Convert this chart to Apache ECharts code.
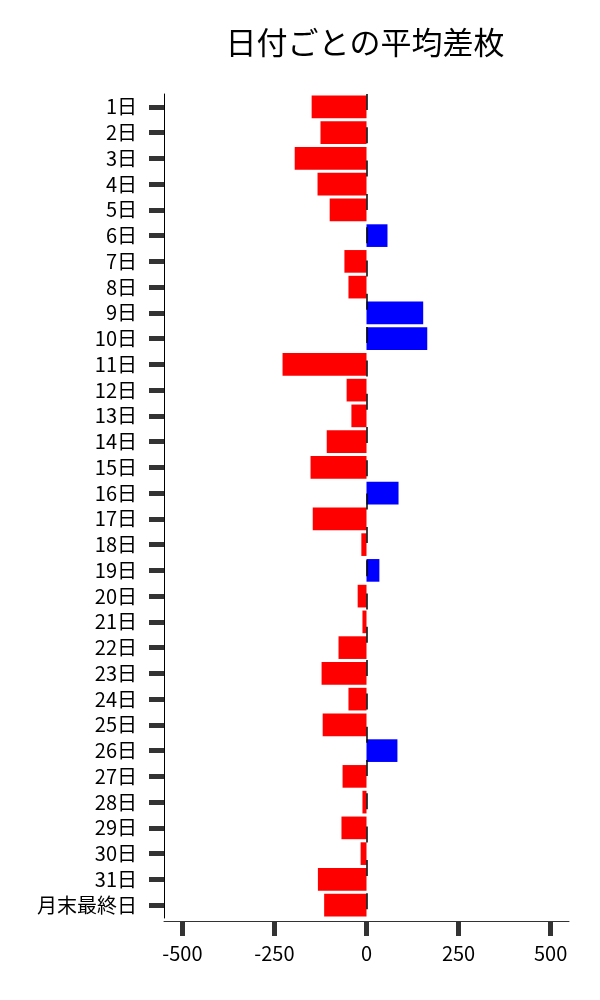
<!DOCTYPE html>
<html>
<head>
<meta charset="utf-8">
<script src="https://cdn.jsdelivr.net/npm/echarts@6/dist/echarts.min.js"></script>
<style>html,body{margin:0;padding:0;background:#fff}#c{width:600px;height:1000px}</style>
</head>
<body>
<div id="c"></div>
<script>
const categories = ['1日','2日','3日','4日','5日','6日','7日','8日','9日','10日','11日','12日','13日','14日','15日','16日','17日','18日','19日','20日','21日','22日','23日','24日','25日','26日','27日','28日','29日','30日','31日','月末最終日'];
const values = [-149,-125,-195,-133,-100,57,-60,-49,154,165,-228,-54,-41,-108,-152,87,-146,-14,35,-24,-11,-76,-122,-49,-119,84,-65,-11,-68,-16,-132,-115];
const xTicks = [-500,-250,0,250,500];
const titleText = '日付ごとの平均差枚';

const FONT = '"Noto Sans CJK JP", "Noto Sans", sans-serif';
const chart = echarts.init(document.getElementById('c'));
chart.setOption({
  animation: false,
  backgroundColor: '#fff',
  title: {
    text: titleText, left: 360, top: 22, textAlign: 'center',
    textStyle: { fontFamily: FONT, fontSize: 31, fontWeight: 'normal', color: '#000' }
  },
  grid: { left: 164, right: 31, top: 94, bottom: 82, containLabel: false },
  xAxis: {
    type: 'value', min: -550, max: 550, offset: 3,
    axisLine: { show: true, onZero: false, lineStyle: { color: '#333', width: 1 } },
    axisTick: { show: true, customValues: xTicks, length: 15, lineStyle: { color: '#333', width: 5 } },
    axisLabel: { customValues: xTicks, margin: 22, fontFamily: FONT, fontSize: 20, color: '#000' },
    splitLine: { show: false }
  },
  yAxis: {
    type: 'category', data: categories, inverse: true,
    axisLine: { show: true, onZero: false, lineStyle: { color: '#000', width: 1 } },
    axisTick: { show: true, interval: 0, alignWithLabel: true, length: 15, lineStyle: { color: '#333', width: 5 } },
    axisLabel: { interval: 0, margin: 27, fontFamily: FONT, fontSize: 20, color: '#000' }
  },
  series: [{
    type: 'bar',
    data: values.map(v => ({ value: v, itemStyle: { color: v < 0 ? '#ff0000' : '#0000ff' } })),
    barCategoryGap: '12%',
    markLine: {
      silent: true, symbol: 'none', label: { show: false },
      lineStyle: { color: '#000', width: 1.5, type: [16, 17.3] },
      data: [{ xAxis: 0 }],
      z: 10
    }
  }]
});
</script>
</body>
</html>
